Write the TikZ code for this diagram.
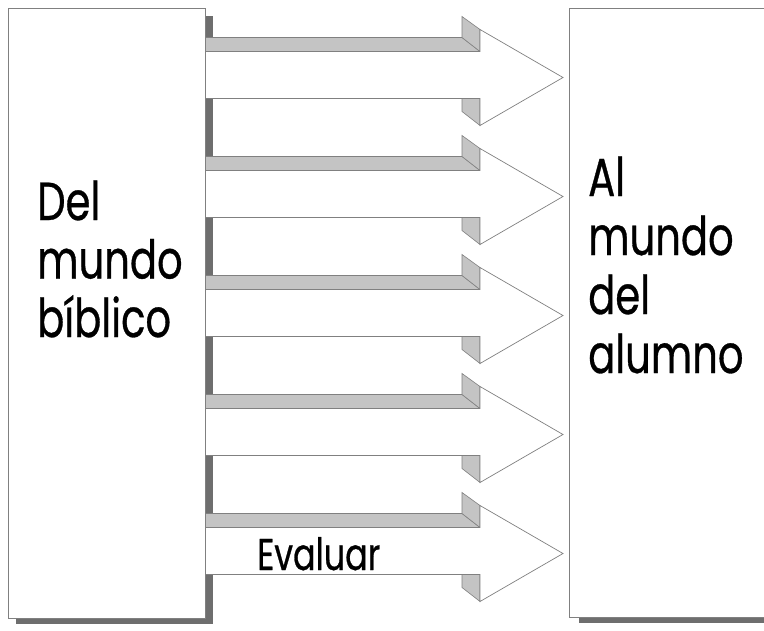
\documentclass[tikz,border=0pt]{standalone}
\usepackage{fontspec}
\setmainfont{Poppins}
\newfontfamily\comicfont[FakeStretch=0.75, FakeBold=0.6]{Poppins}
\definecolor{facegray}{HTML}{C4C4C4}
\definecolor{edgegray}{HTML}{808080}
\definecolor{shadowgray}{HTML}{6E6E6E}
\tikzset{
  panel/.style={draw=edgegray, line width=0.8pt, fill=white},
  panelshadow/.style={fill=shadowgray, draw=none},
  arrowface/.style={draw=edgegray, line width=0.7pt, fill=white, line join=miter},
  arrowside/.style={draw=edgegray, line width=0.6pt, fill=facegray, line join=miter},
  lefttextstyle/.style={font=\comicfont\fontsize{53.5}{58.5}\selectfont, align=left, inner sep=0pt, anchor=base west},
  righttextstyle/.style={font=\comicfont\fontsize{53.5}{59}\selectfont, align=left, inner sep=0pt, anchor=base west},
  smalltext/.style={font=\comicfont\fontsize{44.5}{50}\selectfont, inner sep=0pt, anchor=base west},
  pics/arrowthree/.style={code={
    \fill[arrowside] (190,-40) -- (462,-40) -- (480,-26) -- (200,-26) -- cycle;
    \fill[arrowside] (462,-40) -- (462,-61) -- (480,-48) -- (480,-26) -- cycle;
    \fill[arrowside] (462,21) -- (480,21) -- (480,48) -- (462,34) -- cycle;
    \filldraw[arrowface] (195,-26) -- (480,-26) -- (480,-48) -- (563,0) -- (480,48) -- (480,21) -- (195,21) -- cycle;
  }}
}
\begin{document}
\begin{tikzpicture}[x=1pt, y=-1pt]
\useasboundingbox (0,0) rectangle (764,630);
\fill[white] (0,0) rectangle (764,630);
\clip (0,0) rectangle (764,630);
% shadows
\fill[panelshadow] (16,16) rectangle (213,624);
\fill[panelshadow] (579,16) rectangle (790,623);
% arrows
\foreach \k in {0,...,4}{
  \pic (arr\k) at (0,{77.5+119*\k}) {arrowthree};
}
% panels
\node[panel, minimum width=197pt, minimum height=610pt, inner sep=0pt, anchor=north west] (left) at (8,8) {};
\node[panel, minimum width=220pt, minimum height=609pt, inner sep=0pt, anchor=north west] (right) at (569,8) {};
\node[lefttextstyle] (lefttext) at (37,337) {Del\\mundo\\bíblico};
\node[righttextstyle] (righttext) at (588,373) {Al\\mundo\\del\\alumno};
\node[smalltext] (evaluar) at (257,570) {Evaluar};
\end{tikzpicture}
\end{document}
